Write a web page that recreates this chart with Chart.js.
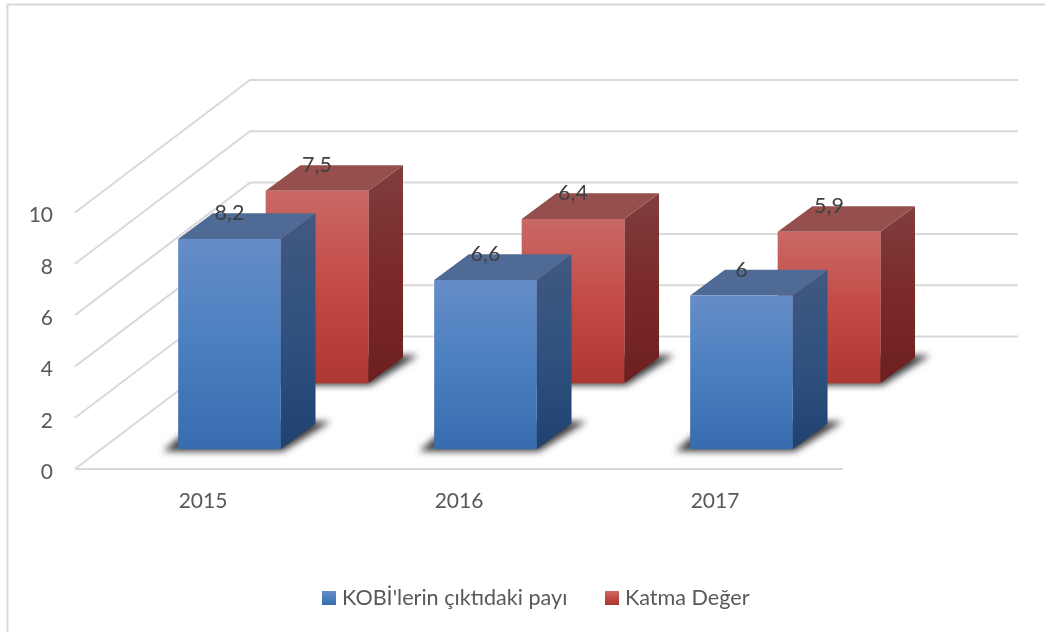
<!DOCTYPE html>
<html>
<head>
<meta charset="utf-8">
<script src="https://cdn.jsdelivr.net/npm/chart.js@4"></script>
<style>
  html, body { margin: 0; background: #fff; }
  canvas { display: block; }
</style>
</head>
<body>
<canvas id="chart" width="1045" height="632"></canvas>
<script>
const categories = ['2015', '2016', '2017'];
const kobiValues = [8.2, 6.6, 6];
const katmaValues = [7.5, 6.4, 5.9];
const seriesNames = ["KOBİ'lerin çıktıdaki payı", 'Katma Değer'];

const FONT = 'Lato, Carlito, sans-serif';
const wall = { dx: 175, dy: -132.5 };
const depth = { dx: 34.7, dy: -25.7 };

const blue = {
  offset: { dx: 26.5, dy: -19.7 },
  front: ['#668dc8', '#4a7fc0', '#386cae'],
  side: ['#41597f', '#2f527f', '#214270'],
  top: '#4f6b95',
};
const red = {
  offset: { dx: 114, dy: -85.8 },
  front: ['#c96965', '#c34a45', '#ad3733'],
  side: ['#7f3e3d', '#7b2a29', '#6d1f1f'],
  top: '#95504e',
};
const looks = [blue, red];

function vGradient(ctx, y0, y1, stops) {
  const g = ctx.createLinearGradient(0, y0, 0, y1);
  g.addColorStop(0, stops[0]);
  g.addColorStop(0.5, stops[1]);
  g.addColorStop(1, stops[2]);
  return g;
}

function frontFill(look) {
  return (c) => {
    if (c.type !== 'data') return look.front[1];
    const y = c.chart.scales.y;
    const y0 = y.getPixelForValue(c.raw);
    const y1 = y.getPixelForValue(0);
    // scales have no size yet on the first pass
    if (!isFinite(y0) || !isFinite(y1)) return look.front[1];
    return vGradient(c.chart.ctx, y0, y1, look.front);
  };
}

function poly(ctx, pts, fill) {
  ctx.beginPath();
  pts.forEach((p, i) => (i ? ctx.lineTo(p[0], p[1]) : ctx.moveTo(p[0], p[1])));
  ctx.closePath();
  ctx.fillStyle = fill;
  ctx.fill();
}

// frame, back wall lines and floor
const backdrop = {
  id: 'backdrop',
  beforeDatasetsDraw(chart) {
    const { ctx, chartArea: area, scales: { y } } = chart;
    ctx.save();
    ctx.strokeStyle = '#d9d9d9';
    ctx.lineWidth = 2;
    ctx.beginPath();
    ctx.moveTo(7.5, 632);
    ctx.lineTo(7.5, 4.5);
    ctx.lineTo(1045, 4.5);
    ctx.stroke();
    y.ticks.forEach((t) => {
      const py = y.getPixelForValue(t.value);
      ctx.beginPath();
      ctx.moveTo(area.left, py);
      ctx.lineTo(area.left + wall.dx, py + wall.dy);
      ctx.lineTo(area.right + wall.dx, py + wall.dy);
      ctx.stroke();
    });
    const py0 = y.getPixelForValue(0);
    ctx.beginPath();
    ctx.moveTo(area.left, py0);
    ctx.lineTo(area.right, py0);
    ctx.stroke();
    ctx.restore();
  },
};

// each series sits further back: shift it and add shadow, side and top faces,
// the library then paints the front face of the bar
const bars3d = {
  id: 'bars3d',
  beforeDatasetDraw(chart, args) {
    const { ctx } = chart;
    const look = looks[args.index];
    ctx.save();
    ctx.translate(look.offset.dx, look.offset.dy);
    args.meta.data.forEach((bar) => {
      const l = bar.x - bar.width / 2;
      const r = bar.x + bar.width / 2;
      const t = bar.y;
      const b = bar.base;

      ctx.save();
      ctx.filter = 'blur(3.5px)';
      poly(ctx, [
        [l - 15, b + 2],
        [r + 2, b + 2],
        [r + depth.dx + 15, b + depth.dy - 2],
        [l - 15 + depth.dx, b + depth.dy - 2],
      ], 'rgba(25,25,25,0.85)');
      ctx.restore();

      poly(ctx, [
        [r, t],
        [r + depth.dx, t + depth.dy],
        [r + depth.dx, b + depth.dy],
        [r, b],
      ], vGradient(ctx, t + depth.dy, b, look.side));
      poly(ctx, [
        [l, t],
        [l + depth.dx, t + depth.dy],
        [r + depth.dx, t + depth.dy],
        [r, t],
      ], look.top);
    });
  },
  afterDatasetDraw(chart) {
    chart.ctx.restore();
  },
  afterDatasetsDraw(chart) {
    const { ctx } = chart;
    ctx.save();
    ctx.font = '21.5px ' + FONT;
    ctx.textAlign = 'center';
    ctx.textBaseline = 'middle';
    ctx.fillStyle = '#404040';
    chart.data.datasets.forEach((ds, i) => {
      const look = looks[i];
      chart.getDatasetMeta(i).data.forEach((bar, j) => {
        const label = String(ds.data[j]).replace('.', ',');
        ctx.fillText(label, bar.x + look.offset.dx, bar.y + look.offset.dy - 25.5);
      });
    });
    ctx.restore();
  },
};

const legendBottom = {
  id: 'legendBottom',
  afterDraw(chart) {
    const { ctx } = chart;
    const swatchX = [322, 605];
    ctx.save();
    ctx.font = '21.6px ' + FONT;
    ctx.textBaseline = 'middle';
    chart.data.datasets.forEach((ds, i) => {
      ctx.fillStyle = vGradient(ctx, 591, 605, looks[i].front);
      ctx.fillRect(swatchX[i], 591, 14, 14);
      ctx.fillStyle = '#595959';
      ctx.fillText(ds.label, swatchX[i] + 20, 598);
    });
    ctx.restore();
  },
};

new Chart(document.getElementById('chart'), {
  type: 'bar',
  data: {
    labels: categories,
    datasets: [
      { label: seriesNames[0], data: kobiValues, backgroundColor: frontFill(blue), clip: false },
      { label: seriesNames[1], data: katmaValues, backgroundColor: frontFill(red), clip: false },
    ],
  },
  options: {
    responsive: false,
    animation: false,
    layout: { padding: { left: 8, right: 202, top: 212.5, bottom: 0 } },
    plugins: {
      legend: { display: false },
      tooltip: { enabled: false },
    },
    datasets: {
      bar: { grouped: false, barPercentage: 0.401, categoryPercentage: 1 },
    },
    scales: {
      x: {
        grid: { display: false },
        border: { display: false },
        afterFit: (scale) => { scale.height = 163; },
        ticks: {
          color: '#595959',
          padding: 12,
          maxRotation: 0,
          font: { family: FONT, size: 21 },
        },
      },
      y: {
        min: 0,
        max: 10,
        grid: { display: false },
        border: { display: false },
        afterFit: (scale) => { scale.width = 67; },
        ticks: {
          stepSize: 2,
          color: '#595959',
          padding: 14,
          // empty first line with a tight line height nudges the label down a little
          callback: (value) => ['', String(value)],
          font: { family: FONT, size: 21, lineHeight: 0.3 },
        },
      },
    },
  },
  plugins: [backdrop, bars3d, legendBottom],
});
</script>
</body>
</html>
